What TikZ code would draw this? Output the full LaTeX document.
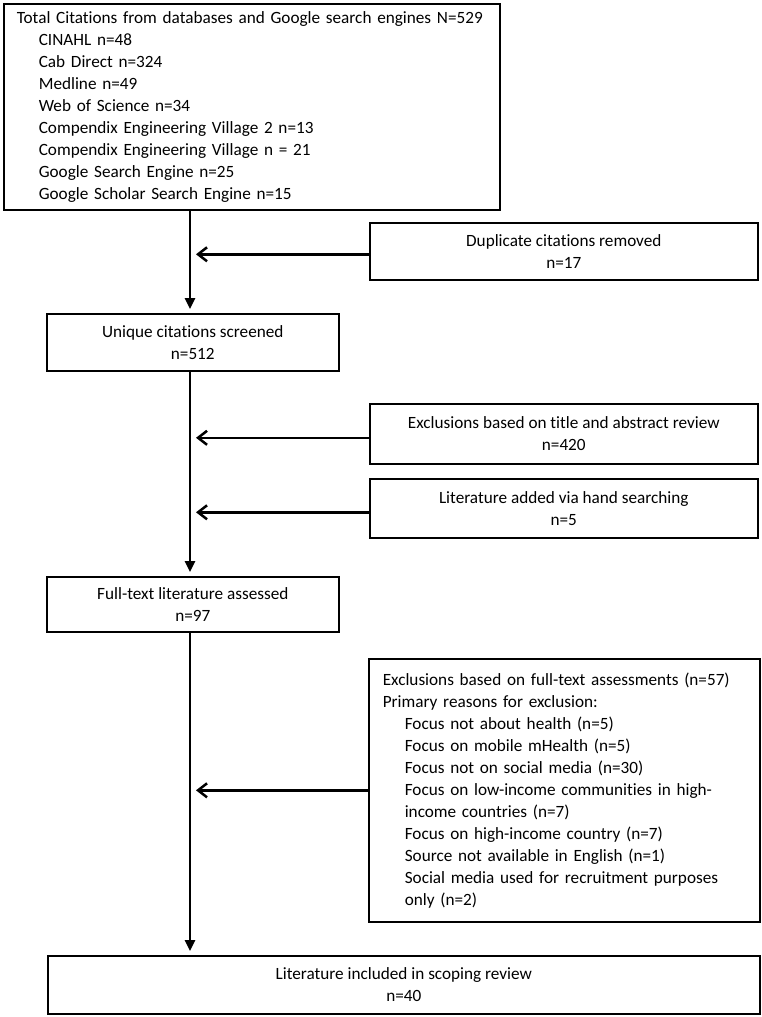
\documentclass[tikz,border=0pt]{standalone}
\usepackage{fontspec}
\setmainfont{Carlito}[Ligatures=NoCommon]
\usetikzlibrary{arrows.meta}
\newcommand\myind{\hspace*{22pt}}
\begin{document}
\begin{tikzpicture}[x=1pt,y=-1pt,
  box/.style={draw, line width=1.6pt, anchor=north west, inner sep=0pt, font=\fontsize{17.2}{22}\selectfont},
  flow/.style={line width=2.5pt, shorten >=4pt, -{Triangle[length=11pt,width=10pt]}},
  side/.style={line width=2.5pt, -{Straight Barb[length=9pt,width=14pt,line width=2.5pt]}},
]
\useasboundingbox (0,0) rectangle (762,1017);
\fill[white] (0,0) rectangle (762,1017);
\coordinate (spine) at (190,0);
\coordinate (tip) at (196,0);

\node[box, minimum width=496pt, minimum height=206pt, text width=470pt, inner xsep=13pt, align=left] (total) at (3,3)
 {\mbox{Total Citations from databases and Google search engines N=529}\\
  \myind CINAHL n=48\\
  \myind Cab Direct n=324\\
  \myind Medline n=49\\
  \myind Web of Science n=34\\
  \myind Compendix Engineering Village 2 n=13\\
  \myind Compendix Engineering Village n = 21\\
  \myind Google Search Engine n=25\\
  \myind Google Scholar Search Engine n=15};

\node[box, minimum width=388pt, minimum height=57pt, align=center] (dup) at (369,222)
 {Duplicate citations removed\\n=17};

\node[box, minimum width=292pt, minimum height=57pt, align=center] (unique) at (46,313)
 {Unique citations screened\\n=512};

\node[box, minimum width=388pt, minimum height=60pt, align=center] (excl) at (369,403)
 {Exclusions based on title and abstract review\\n=420};

\node[box, minimum width=388pt, minimum height=59pt, align=center] (added) at (369,478)
 {Literature added via hand searching\\n=5};

\node[box, minimum width=292pt, minimum height=55pt, align=center] (full) at (46,576)
 {Full-text literature assessed\\n=97};

\node[box, minimum width=391pt, minimum height=263pt, text width=363pt, inner xsep=14pt, align=left] (exfull) at (368,658)
 {\mbox{Exclusions based on full-text assessments (n=57)}\\
  Primary reasons for exclusion:\\
  \myind Focus not about health (n=5)\\
  \myind Focus on mobile mHealth (n=5)\\
  \myind Focus not on social media (n=30)\\
  \myind \mbox{Focus on low-income communities in high-}\\
  \myind income countries (n=7)\\
  \myind Focus on high-income country (n=7)\\
  \myind Source not available in English (n=1)\\
  \myind \mbox{Social media used for recruitment purposes}\\
  \myind only (n=2)};

\node[box, minimum width=712pt, minimum height=58pt, align=center] (final) at (47,955)
 {Literature included in scoping review\\n=40};

\draw[flow] (total.south -| spine) -- (unique.north -| spine);
\draw[side] ([yshift=-3pt]dup.west) -- ([yshift=-3pt]dup.west -| tip);
\draw[flow] (unique.south -| spine) -- (full.north -| spine);
\draw[side] ([yshift=-4pt]excl.west) -- ([yshift=-4pt]excl.west -| tip);
\draw[side] ([yshift=-4pt]added.west) -- ([yshift=-4pt]added.west -| tip);
\draw[flow] (full.south -| spine) -- (final.north -| spine);
\draw[side] (exfull.west) -- (exfull.west -| tip);
\end{tikzpicture}
\end{document}
